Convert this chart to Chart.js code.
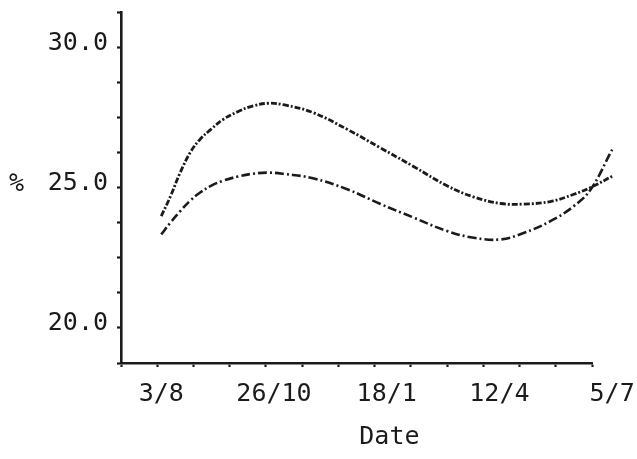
<!DOCTYPE html>
<html>
<head>
<meta charset="utf-8">
<script src="https://cdn.jsdelivr.net/npm/chart.js@4.4.1/dist/chart.umd.min.js"></script>
<style>
  html, body { margin: 0; padding: 0; background: #fff; }
  #wrap { width: 637px; height: 459px; }
</style>
</head>
<body>
<div id="wrap"><canvas id="chart"></canvas></div>
<script>
// x is days counted from 3/8
const days  = [0, 7, 14, 22, 29, 37, 46, 57, 68, 80, 92, 113, 139, 163, 188, 213, 233, 253, 270, 290, 307, 320, 336];
const upper = [23.98, 24.7, 25.52, 26.28, 26.72, 27.07, 27.42, 27.7, 27.9, 28.0, 27.94, 27.67, 27.06, 26.42,
               25.75, 25.06, 24.66, 24.43, 24.41, 24.5, 24.75, 25.0, 25.4];
const lower = [23.33, 23.76, 24.15, 24.55, 24.82, 25.06, 25.24, 25.39, 25.49, 25.53, 25.48, 25.33, 24.93, 24.42,
               23.93, 23.45, 23.21, 23.15, 23.38, 23.8, 24.32, 24.93, 26.35];

const dateLabels = ['3/8', '26/10', '18/1', '12/4', '5/7'];
const dateDays   = [0, 84, 168, 252, 336];
const yLabelled  = [20, 25, 30];

const INK = '#1b1b1b';
const FONT_FAMILY = '"DejaVu Sans Mono", "Liberation Mono", monospace';
const FONT_SIZE = 25;

const points = arr => days.map((d, i) => ({ x: d, y: arr[i] }));

// keep the plot box where it is, whatever the edge labels want
const noEdgePadding = scale => {
  scale.paddingTop = 0;
  scale.paddingBottom = 0;
  scale.paddingLeft = 0;
  scale.paddingRight = 0;
};

// the "%" beside 25.0 and the "Date" caption sit off the usual title spots
const axisText = {
  id: 'axisText',
  afterDraw(chart) {
    const { ctx, scales: { x, y } } = chart;
    ctx.save();
    ctx.font = FONT_SIZE + 'px ' + FONT_FAMILY;
    ctx.fillStyle = INK;
    ctx.textBaseline = 'middle';
    ctx.textAlign = 'left';
    ctx.fillText('%', 9, y.getPixelForValue(25) - 3);
    ctx.textAlign = 'center';
    ctx.fillText('Date', x.getPixelForValue(170), 437);
    ctx.restore();
  }
};

new Chart(document.getElementById('chart'), {
  type: 'line',
  data: {
    datasets: [
      {
        data: points(upper),
        borderColor: INK,
        borderWidth: 2.8,
        borderDash: [6, 2, 2, 2],
        tension: 0.4,
        pointRadius: 0,
        clip: false
      },
      {
        data: points(lower),
        borderColor: INK,
        borderWidth: 2.6,
        borderDash: [9, 3, 2, 3],
        tension: 0.4,
        pointRadius: 0,
        clip: false
      }
    ]
  },
  options: {
    responsive: true,
    maintainAspectRatio: false,
    animation: false,
    layout: { padding: { top: 12, right: 45, bottom: 0, left: 0 } },
    plugins: { legend: { display: false }, tooltip: { enabled: false } },
    scales: {
      x: {
        type: 'linear',
        min: -30,
        max: 321,
        afterBuildTicks(scale) {
          const marks = [];
          for (let d = -30; d <= 321; d += 27) marks.push({ value: d, mark: true });
          const named = dateDays.map((d, i) => ({ value: d, name: dateLabels[i] }));
          scale.ticks = [marks[0], ...named, ...marks.slice(1)];
        },
        afterFit(scale) { scale.height = 96; noEdgePadding(scale); },
        border: { display: true, color: INK, width: 2.6 },
        grid: {
          drawOnChartArea: false,
          drawTicks: true,
          tickLength: 4,
          tickWidth: 2.2,
          tickColor: c => (c.tick && c.tick.mark ? INK : 'rgba(0,0,0,0)')
        },
        ticks: {
          autoSkip: false,
          maxRotation: 0,
          padding: 12,
          color: INK,
          font: { family: FONT_FAMILY, size: FONT_SIZE },
          callback: (v, i, ticks) => ticks[i].name || ''
        }
      },
      y: {
        min: 18.75,
        max: 31.25,
        afterFit(scale) { scale.width = 121; noEdgePadding(scale); },
        border: { display: true, color: INK, width: 2.6 },
        grid: {
          drawOnChartArea: false,
          drawTicks: true,
          tickLength: 4,
          tickWidth: 2.2,
          tickColor: INK
        },
        ticks: {
          stepSize: 1.25,
          autoSkip: false,
          padding: 9,
          labelOffset: -4,
          color: INK,
          font: { family: FONT_FAMILY, size: FONT_SIZE },
          callback: v => (yLabelled.some(t => Math.abs(t - v) < 1e-6) ? v.toFixed(1) : '')
        }
      }
    }
  },
  plugins: [axisText]
});
</script>
</body>
</html>
